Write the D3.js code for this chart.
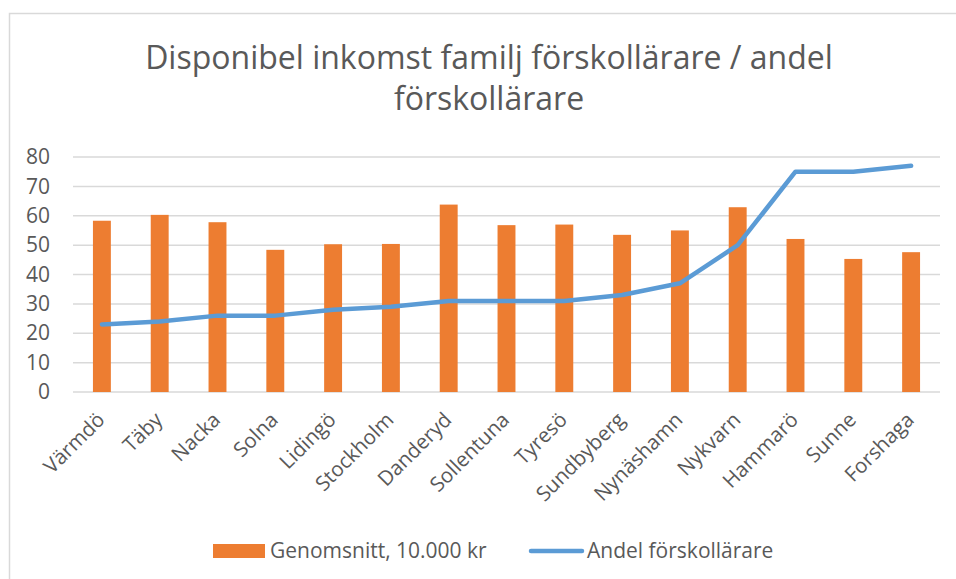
<!DOCTYPE html>
<html>
<head>
<meta charset="utf-8">
<script src="https://cdn.jsdelivr.net/npm/d3@7"></script>
<style>
  body { margin: 0; background: #fff; }
  text { font-family: "Open Sans", sans-serif; fill: #595959; }
</style>
</head>
<body>
<svg id="svg1" width="956" height="579"></svg>
<script>
var kommuner = ["Värmdö", "Täby", "Nacka", "Solna", "Lidingö", "Stockholm", "Danderyd",
  "Sollentuna", "Tyresö", "Sundbyberg", "Nynäshamn", "Nykvarn", "Hammarö", "Sunne", "Forshaga"];
var genomsnitt = [58.3, 60.3, 57.8, 48.4, 50.3, 50.4, 63.8, 56.8, 57.0, 53.5, 55.0, 62.9, 52.1, 45.3, 47.6];
var andel = [23, 24, 26, 26, 28, 29, 31, 31, 31, 33, 37, 50, 75, 75, 77];
var yTicks = [0, 10, 20, 30, 40, 50, 60, 70, 80];
var titleLines = ["Disponibel inkomst familj förskollärare / andel", "förskollärare"];
var legendNames = ["Genomsnitt, 10.000 kr", "Andel förskollärare"];

var svg = d3.select("#svg1");
var margin = {top: 157, left: 73, right: 16, bottom: 187};
var width = +svg.attr("width") - margin.left - margin.right,
    height = +svg.attr("height") - margin.top - margin.bottom;

var barColor = "#ED7D31", lineColor = "#5B9BD5";

// chart frame (only top and left edges visible in the crop)
svg.append("path")
    .attr("d", "M9.5,579V13.5H956")
    .attr("fill", "none")
    .attr("stroke", "#d9d9d9")
    .attr("stroke-width", 1.5);

// title
svg.append("text")
    .attr("x", 489)
    .attr("y", 69)
    .attr("text-anchor", "middle")
    .attr("font-size", 32)
  .selectAll("tspan")
  .data(titleLines)
  .enter().append("tspan")
    .attr("x", 489)
    .attr("dy", function(d, i) { return i ? 41 : 0; })
    .text(function(d) { return d; });

var x = d3.scaleBand().domain(kommuner).range([0, width]).paddingInner(0.69).paddingOuter(0.345);
var xc = d3.scaleBand().domain(kommuner).range([0, width]);
var y = d3.scaleLinear().domain([0, 80]).range([height, 0]);

var g = svg.append("g")
    .attr("transform", "translate(" + margin.left + "," + margin.top + ")");

// gridlines
g.append("g")
    .attr("class", "grid")
  .selectAll("line")
  .data(yTicks)
  .enter().append("line")
    .attr("x1", 0)
    .attr("x2", width)
    .attr("y1", function(d) { return y(d); })
    .attr("y2", function(d) { return y(d); })
    .attr("stroke", "#d9d9d9")
    .attr("stroke-width", 1.5);

// y axis labels
var yAxis = d3.axisLeft(y).tickValues(yTicks).tickSize(0).tickPadding(23);
g.append("g")
    .call(yAxis)
    .call(function(a) { a.select(".domain").remove(); })
    .selectAll("text")
    .attr("font-size", 21)
    .attr("font-family", "'Open Sans', sans-serif")
    .attr("fill", "#595959");

// bars
g.selectAll(".bar")
  .data(genomsnitt)
  .enter().append("rect")
    .attr("class", "bar")
    .attr("x", function(d, i) { return x(kommuner[i]); })
    .attr("width", x.bandwidth())
    .attr("y", function(d) { return y(d); })
    .attr("height", function(d) { return y(0) - y(d); })
    .attr("fill", barColor);

// line
var line = d3.line()
    .x(function(d, i) { return xc(kommuner[i]) + xc.bandwidth() / 2; })
    .y(function(d) { return y(d); });

g.append("path")
    .datum(andel)
    .attr("d", line)
    .attr("fill", "none")
    .attr("stroke", lineColor)
    .attr("stroke-width", 4.5)
    .attr("stroke-linecap", "round")
    .attr("stroke-linejoin", "round");

// x labels
var xAxis = d3.axisBottom(xc).tickSize(0).tickPadding(0);
g.append("g")
    .attr("transform", "translate(0," + height + ")")
    .call(xAxis)
    .call(function(a) { a.select(".domain").remove(); })
    .selectAll("text")
    .attr("font-size", 20.5)
    .attr("font-family", "'Open Sans', sans-serif")
    .attr("fill", "#595959")
    .attr("text-anchor", "end")
    .attr("dy", "0.35em")
    .attr("transform", "translate(-1,24) rotate(-45)");

// legend
var legend = svg.append("g").attr("transform", "translate(0,551)");
legend.append("rect")
    .attr("x", 213).attr("y", -7)
    .attr("width", 52).attr("height", 14)
    .attr("fill", barColor);
legend.append("text")
    .attr("x", 270).attr("dy", "0.35em")
    .attr("font-size", 21)
    .text(legendNames[0]);
legend.append("line")
    .attr("x1", 531).attr("x2", 582)
    .attr("stroke", lineColor)
    .attr("stroke-width", 4.5)
    .attr("stroke-linecap", "round");
legend.append("text")
    .attr("x", 587).attr("dy", "0.35em")
    .attr("font-size", 21)
    .text(legendNames[1]);
</script>
</body>
</html>
